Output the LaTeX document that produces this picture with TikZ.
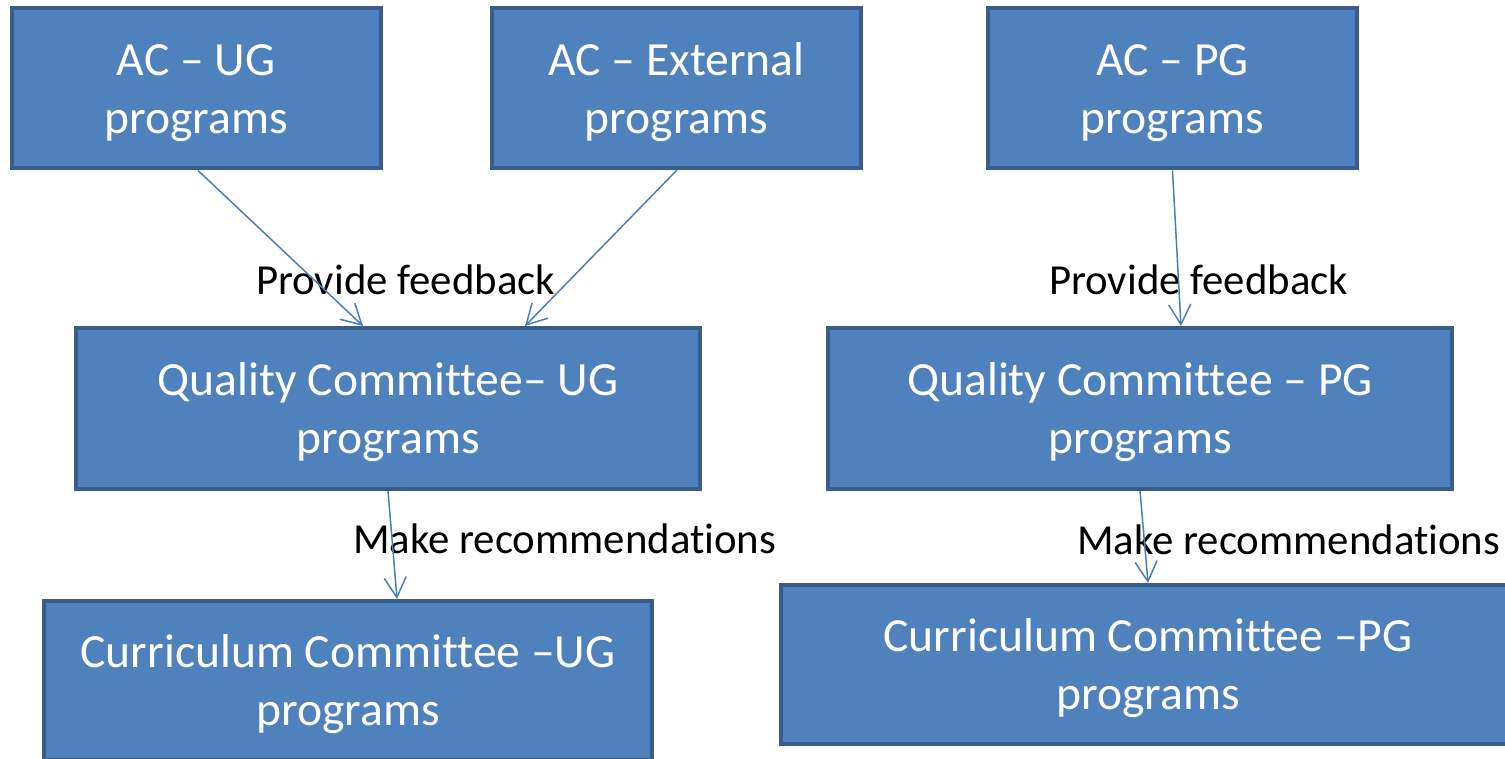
\documentclass[tikz,border=0pt]{standalone}
\usepackage{fontspec}
\setmainfont[Ligatures=NoCommon]{Carlito}
\usetikzlibrary{arrows.meta}
\definecolor{boxfill}{HTML}{4F81BD}
\definecolor{boxline}{HTML}{385D8A}
\definecolor{arrowcol}{HTML}{4A7EBB}
\newcommand{\bxstrut}{\rule{0pt}{41pt}}
\tikzset{
  box/.style={draw=boxline, line width=4pt, fill=boxfill, text=white,
    align=center, inner sep=0pt, font=\fontsize{47.6}{58}\selectfont},
  lbl/.style={anchor=base west, inner sep=0pt, text=black,
    font=\fontsize{42.8}{51}\selectfont},
  conn/.style={draw=arrowcol, line width=1.5pt,
    -{Straight Barb[length=20pt,width=22pt,line width=1.5pt]}},
}
\begin{document}
\begin{tikzpicture}[x=1pt,y=-1pt]
\useasboundingbox (0,0) rectangle (1505,759);
\begin{scope}
\clip (0,0) rectangle (1505,759);
\node[box, minimum width=369pt, minimum height=160.5pt] (acug) at (196,88.25) {\bxstrut AC -- UG\\programs};
\node[box, minimum width=369pt, minimum height=160.5pt] (acext) at (676.5,88.25) {\bxstrut AC -- External\\programs};
\node[box, minimum width=369pt, minimum height=160.5pt] (acpg) at (1172.5,88.25) {\bxstrut AC -- PG\\programs};
\node[box, minimum width=624pt, minimum height=161pt] (qug) at (388,408.5) {\bxstrut Quality Committee-- UG\\programs};
\node[box, minimum width=624pt, minimum height=161pt] (qpg) at (1140,408.5) {\bxstrut Quality Committee -- PG\\programs};
\node[box, minimum width=608pt, minimum height=159pt] (cug) at (348,680.5) {\bxstrut Curriculum Committee --UG\\programs};
\node[box, minimum width=734pt, minimum height=159pt] (cpg) at (1148,664.5) {\bxstrut Curriculum Committee --PG\\programs};
\end{scope}
\node[lbl] (pf1) at (256,295) {Provide feedback};
\node[lbl] (pf2) at (1049,295) {Provide feedback};
\node[lbl] (mr1) at (353,553) {Make recommendations};
\node[lbl] (mr2) at (1077,554) {Make recommendations};
\draw[conn] ([xshift=2pt]acug.south) -- ([xshift=-25pt]qug.north);
\draw[conn] (acext.south) -- ([xshift=137pt]qug.north);
\draw[conn] (acpg.south) -- ([xshift=41pt]qpg.north);
\draw[conn] (qug.south) -- ([xshift=49pt]cug.north);
\draw[conn] (qpg.south) -- (cpg.north);
\end{tikzpicture}
\end{document}
